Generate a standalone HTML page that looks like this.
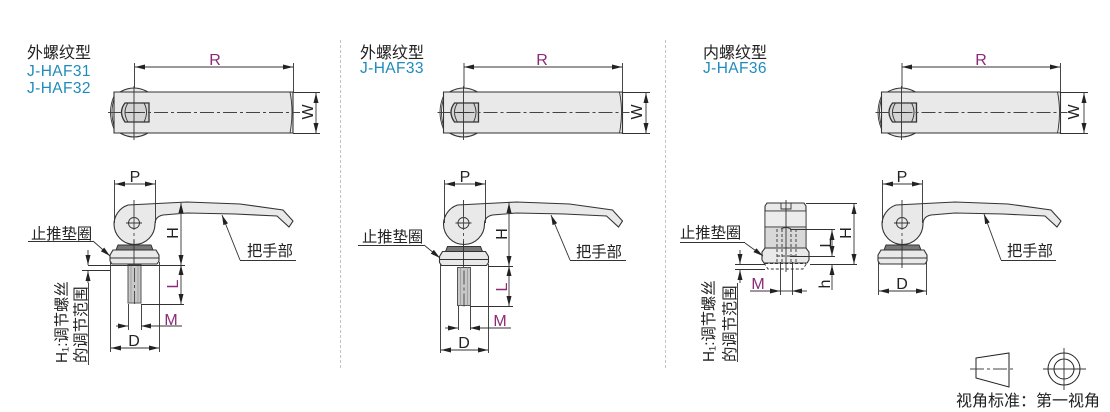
<!DOCTYPE html>
<html lang="zh"><head><meta charset="utf-8"><style>
html,body{margin:0;padding:0;background:#fff}
svg{display:block}
text{font-family:"Liberation Sans","Noto Sans CJK SC",sans-serif;fill:#222}
.c{font-size:15.300px}
.t{font-size:16px}
.b{font-size:15.500px;fill:#1f8bbd;letter-spacing:.4px}
.d{font-size:16px;text-anchor:middle}
.m{font-size:16px;text-anchor:middle;fill:#8c2a78}
.l{fill:none;stroke:#333;stroke-width:.9}
.o{fill:#e9e9e9;stroke:#333;stroke-width:1.100}
.g{fill:#cfcfcf;stroke:#333;stroke-width:1}
.cl{fill:none;stroke:#444;stroke-width:.9;stroke-dasharray:14 3 3 3}
.a{fill:none;stroke:#333;stroke-width:.9;marker-start:url(#as);marker-end:url(#ae)}
.e{fill:none;stroke:#333;stroke-width:.9;marker-end:url(#ae)}
</style></head><body>
<svg width="1110" height="412" viewBox="0 0 1110 412" xmlns="http://www.w3.org/2000/svg">
<defs>
<marker id="ae" markerUnits="userSpaceOnUse" markerWidth="11" markerHeight="6" refX="10" refY="2.500" orient="auto"><path d="M0 0L10 2.500L0 5Z" fill="#222"/></marker>
<marker id="as" markerUnits="userSpaceOnUse" markerWidth="11" markerHeight="6" refX="0" refY="2.500" orient="auto"><path d="M10 0L0 2.500L10 5Z" fill="#222"/></marker>
<g id="top">
<path class="o" d="M120 92Q134 84 148 92ZM120 133Q134 141 148 133Z"/>
<path class="l" d="M114 96Q107 112 114 129M114 99Q110 112 114 126"/>
<path class="o" d="M114 92H293V133H114Z"/>
<path class="l" d="M290 92Q294 112 290 133"/>
<path fill="#d4d4d4" stroke="#333" stroke-width="1.300" d="M125 103H149V122H125Q118 112 125 103Z"/>
<path class="l" d="M128 103Q122 112 128 122M144 103Q149 112 144 122"/>
<path class="cl" d="M108 112.500H300"/>
<path class="l" d="M134 86V140M128 112.500H140"/>
</g>
<g id="lever">
<path class="o" d="M114 224A20.500 20.500 0 0 1 128 205L187 202L240 204L283 210L293 221L289 227L277 216L235 214L187 213L163 215C158 216 155 219 155 224A20.500 20.500 0 0 1 114 224Z"/>
<circle class="l" cx="134" cy="223" r="5.500"/>
<path class="l" d="M126 223H142M134 200V216"/>
<path class="cl" d="M134 216V265"/>
</g>
<g id="base">
<path fill="#777" stroke="#333" stroke-width="1" d="M116 250L118 245H151L153 250Z"/>
<path class="o" d="M113 250H156L159 255V261L157 264H112L110 261V255Z"/>
<path class="l" d="M110 258H159"/>
<path class="l" d="M134 240V268"/>
</g>
<g id="stud">
<rect fill="#c8c8c8" stroke="#555" stroke-width="1" x="128" y="265" width="13" height="38"/>
<path d="M131 265V303M138 265V303" fill="none" stroke="#999" stroke-width=".8"/>
<path class="cl" d="M134.500 268V304"/>
</g>
</defs>

<path d="M340.500 40V370M665.500 40V370" stroke="#c4c4c4" stroke-width="1" stroke-dasharray="3 2" fill="none"/>

<!-- Panel 1 -->
<text class="t" x="27" y="58">外螺纹型</text>
<text class="b" x="27" y="76">J-HAF31</text>
<text class="b" x="27" y="93">J-HAF32</text>
<use href="#top"/>
<path class="l" d="M134.500 63V88M293.500 63V92M293 92.500H320M293 133.500H320"/>
<path class="a" d="M135 67H293"/><path class="a" d="M316 93V133"/>
<text class="m" x="215" y="65">R</text>
<text class="d" transform="translate(313,112) rotate(-90)">W</text>
<use href="#lever"/><use href="#base"/><use href="#stud"/>
<path class="l" d="M114.500 180V223M155.500 180V223"/>
<path class="a" d="M115 184H155"/>
<text class="d" x="135" y="182">P</text>
<path class="l" d="M88 265.500H185M82 270.500H110M141 304.500H184M110.500 262V352M159.500 262V352M128.500 304V330M141.500 304V330"/>
<path class="a" d="M181 203V265"/><path class="a" d="M181 265V304"/>
<text class="d" transform="translate(178,233) rotate(-90)">H</text>
<text class="m" transform="translate(178,284) rotate(-90)">L</text>
<path class="e" d="M116 326H128"/><path class="e" d="M182 326H141"/>
<text class="m" x="171" y="325">M</text>
<path class="a" d="M111 348H159"/>
<text class="d" x="134" y="346">D</text>
<path class="e" d="M88 250V265"/><path class="e" d="M88 283V271"/>
<path class="l" d="M88.500 283V365"/>
<text class="c" transform="translate(67,363) rotate(-90)">H₁:调节螺丝</text>
<text class="c" transform="translate(86,363) rotate(-90)">的调节范围</text>
<text class="c" x="31" y="239">止推垫圈</text>
<path class="l" d="M28 241.500H93"/><path class="e" d="M93 241L110 256"/>
<text class="c" x="247" y="256">把手部</text>
<path class="l" d="M240 260.500H296"/><path class="e" d="M240 260L222 215"/>

<!-- Panel 2 -->
<text class="t" x="360" y="58">外螺纹型</text>
<text class="b" x="360" y="73">J-HAF33</text>
<g transform="translate(329.500,0)"><use href="#top"/></g>
<path class="l" d="M464 63V88M622.500 63V92M622 92.500H650M622 133.500H650"/>
<path class="a" d="M464 67H622"/><path class="a" d="M646 93V133"/>
<text class="m" x="542" y="65">R</text>
<text class="d" transform="translate(642,112) rotate(-90)">W</text>
<g transform="translate(329.500,0)"><use href="#lever"/></g>
<g transform="translate(329.500,1.500)"><use href="#base"/></g>
<g transform="translate(329.500,2.500)"><use href="#stud"/></g>
<path class="l" d="M444.500 180V223M485.500 180V223"/>
<path class="a" d="M445 184H485"/>
<text class="d" x="465" y="182">P</text>
<path class="l" d="M488 266.500H513M470 306.500H513M440.500 264V353M488.500 264V353M458.500 306V330M470.500 306V330"/>
<path class="a" d="M509 203V266"/><path class="a" d="M509 266V306"/>
<text class="d" transform="translate(507,234) rotate(-90)">H</text>
<text class="m" transform="translate(507,287) rotate(-90)">L</text>
<path class="e" d="M445 328H458"/><path class="e" d="M511 328H470"/>
<text class="m" x="500" y="326">M</text>
<path class="a" d="M441 350H488"/>
<text class="d" x="464" y="348">D</text>
<text class="c" x="362" y="242">止推垫圈</text>
<path class="l" d="M358 245.500H424"/><path class="e" d="M424 245L440 258"/>
<text class="c" x="576" y="257">把手部</text>
<path class="l" d="M570 260.500H626"/><path class="e" d="M570 260L551 215"/>

<!-- Panel 3 -->
<text class="t" x="703" y="58">内螺纹型</text>
<text class="b" x="703" y="73">J-HAF36</text>
<g transform="translate(767.500,0)"><use href="#top"/></g>
<path class="l" d="M902 63V88M1060.500 63V92M1060 92.500H1088M1060 133.500H1088"/>
<path class="a" d="M902 67H1060"/><path class="a" d="M1084 93V133"/>
<text class="m" x="981" y="65">R</text>
<text class="d" transform="translate(1079,112) rotate(-90)">W</text>
<g transform="translate(768,0)"><use href="#lever"/></g>
<g transform="translate(768,0)"><use href="#base"/></g>
<path class="l" d="M882.500 180V223M922.500 180V223"/>
<path class="a" d="M883 184H922"/>
<text class="d" x="902" y="182">P</text>
<path class="l" d="M878.500 262V295M926.500 262V295"/>
<path class="a" d="M879 291H926"/>
<text class="d" x="902" y="289">D</text>
<text class="c" x="1007" y="256">把手部</text>
<path class="l" d="M1001 260.500H1056"/><path class="e" d="M1001 260L984 214"/>

<!-- Panel 3 nut -->
<path class="o" d="M765 206L767 203H804L806 206V248H765Z"/>
<path class="l" d="M765 211H806"/>
<rect x="765" y="211" width="41" height="16" fill="#ececec" stroke="#333" stroke-width=".8"/>
<rect x="765" y="227" width="41" height="21" fill="#d8d8d8" stroke="#333" stroke-width=".8"/>
<path class="l" d="M781 203V209H791V203"/>
<path class="o" d="M765 248H806L809 252V260L807 263H764L762 260V252Z"/>
<path class="l" d="M764 263L768 269H803L807 263" stroke-dasharray="3 2"/>
<path class="l" d="M777 229V262M782 229V262M791 229V262M796 229V262M777 256H796M765 263.500H806" stroke-dasharray="3 2"/>
<path class="l" d="M786 200V272" />
<path class="l" d="M781 229Q786 226 791 229"/>
<path class="l" d="M806 203.500H857M790 229.500H835M790 256.500H835M810 264.500H857"/>
<path class="l" d="M780.500 262V295M792.500 262V295M735 264.500H765M735 269.500H765"/>
<path class="a" d="M854 204V264"/>
<path class="a" d="M832 230V256"/>
<path class="e" d="M832 290V265"/>
<text class="d" transform="translate(851,233) rotate(-90)">H</text>
<text class="d" transform="translate(831,243) rotate(-90)">L</text>
<text class="d" transform="translate(830,284) rotate(-90)">h</text>
<text class="m" x="758" y="289">M</text>
<path class="e" d="M750 291H780"/><path class="e" d="M807 291H792"/><path class="l" d="M780 291H792"/>
<path class="e" d="M740 250V264"/><path class="e" d="M740 283V270"/>
<path class="l" d="M737.500 283V362"/>
<text class="c" transform="translate(714,362) rotate(-90)">H₁:调节螺丝</text>
<text class="c" transform="translate(735,362) rotate(-90)">的调节范围</text>
<text class="c" x="680" y="238">止推垫圈</text>
<path class="l" d="M680 242.500H745"/><path class="e" d="M745 243L763 256"/>

<!-- First angle symbol -->
<path fill="none" stroke="#222" stroke-width="1" d="M976 358L1009 353V387L976 378Z"/>
<path class="cl" d="M970 369H1015"/>
<circle cx="1064" cy="369" r="16" fill="none" stroke="#222" stroke-width="1"/>
<circle cx="1064" cy="369" r="10" fill="none" stroke="#222" stroke-width="1"/>
<path class="l" d="M1043 369H1086M1064 348V390"/>
<text class="t" x="956" y="406">视角标准：第一视角</text>
</svg>
</body></html>
